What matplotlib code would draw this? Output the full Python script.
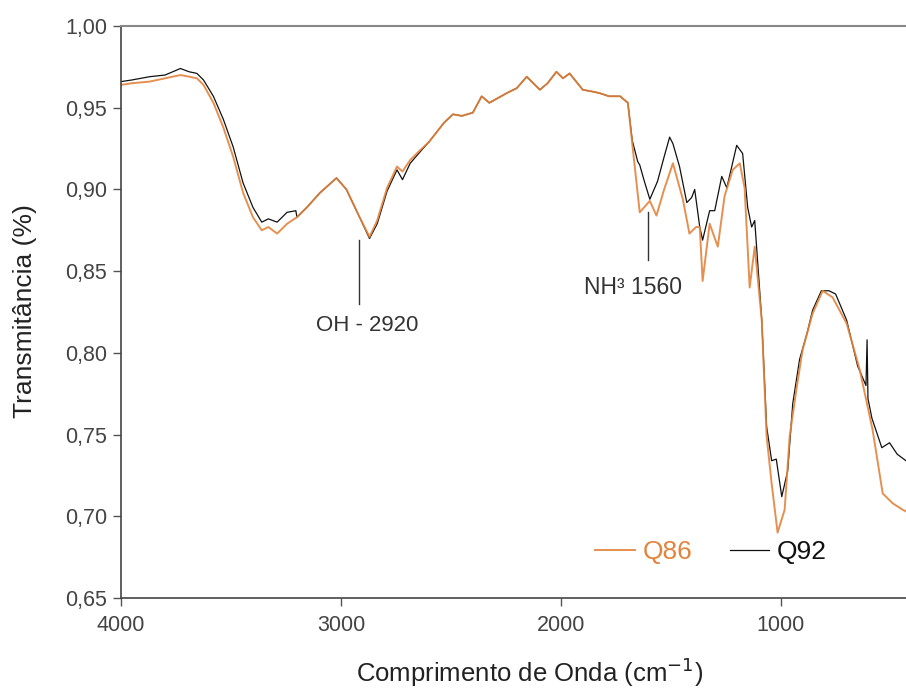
import matplotlib
matplotlib.use("Agg")
import matplotlib.pyplot as plt

plt.rcParams['font.family'] = ['Liberation Sans', 'DejaVu Sans']

# Q86 (laranja)
wn_q86 = [4000, 3950, 3870, 3800, 3730, 3690, 3655, 3625, 3580, 3535, 3490, 3445,
          3400, 3360, 3330, 3290, 3245, 3200, 3155, 3095, 3020, 2975, 2915, 2870,
          2835, 2790, 2745, 2720, 2685, 2640, 2600, 2565, 2530, 2490, 2450, 2400,
          2360, 2325, 2285, 2245, 2200, 2155, 2095, 2060, 2020, 1990, 1960, 1900,
          1860, 1825, 1780, 1730, 1695, 1675, 1641, 1615, 1595, 1565, 1530, 1490,
          1445, 1415, 1385, 1368, 1355, 1323, 1286, 1255, 1218, 1186, 1164, 1141,
          1118, 1086, 1064, 1041, 1014, 982, 959, 927, 900, 855, 809, 764, 700,
          641, 582, 536, 491, 445, 430]
t_q86 = [0.964, 0.965, 0.966, 0.968, 0.970, 0.969, 0.968, 0.964, 0.953, 0.938, 0.920, 0.898,
         0.883, 0.875, 0.877, 0.873, 0.879, 0.883, 0.889, 0.898, 0.907, 0.900, 0.883, 0.871,
         0.881, 0.901, 0.914, 0.911, 0.918, 0.924, 0.929, 0.935, 0.941, 0.946, 0.945, 0.947,
         0.957, 0.953, 0.956, 0.959, 0.962, 0.969, 0.961, 0.965, 0.972, 0.968, 0.971, 0.961,
         0.960, 0.959, 0.957, 0.957, 0.953, 0.928, 0.886, 0.890, 0.893, 0.884, 0.900, 0.916,
         0.894, 0.873, 0.877, 0.877, 0.844, 0.879, 0.865, 0.896, 0.912, 0.916, 0.901, 0.840,
         0.865, 0.820, 0.749, 0.720, 0.690, 0.704, 0.749, 0.779, 0.802, 0.824, 0.838, 0.834, 0.818,
         0.790, 0.753, 0.714, 0.708, 0.704, 0.703]

# Q92 (preto)
wn_q92 = [4000, 3950, 3870, 3800, 3730, 3690, 3655, 3625, 3580, 3535, 3490, 3445,
          3400, 3360, 3330, 3290, 3245, 3205, 3200, 3155, 3095, 3020, 2975, 2915, 2870,
          2835, 2790, 2745, 2720, 2685, 2640, 2600, 2565, 2530, 2490, 2450, 2400,
          2360, 2325, 2285, 2245, 2200, 2155, 2095, 2060, 2020, 1990, 1960, 1900,
          1860, 1825, 1780, 1730, 1695, 1675, 1650, 1641, 1620, 1595, 1560, 1530, 1505,
          1490, 1460, 1427, 1405, 1391, 1368, 1355, 1323, 1300, 1268, 1245, 1200, 1173,
          1150, 1132, 1118, 1086, 1064, 1041, 1020, 995, 968, 945, 914, 880, 855, 815,
          780, 750, 700, 650, 612, 607, 603, 585, 540, 505, 470, 430]
t_q92 = [0.966, 0.967, 0.969, 0.970, 0.974, 0.972, 0.971, 0.967, 0.957, 0.943, 0.926, 0.904,
         0.889, 0.880, 0.882, 0.880, 0.886, 0.887, 0.883, 0.889, 0.898, 0.907, 0.900, 0.883, 0.870,
         0.879, 0.899, 0.912, 0.906, 0.916, 0.923, 0.929, 0.935, 0.941, 0.946, 0.945, 0.947,
         0.957, 0.953, 0.956, 0.959, 0.962, 0.969, 0.961, 0.965, 0.972, 0.968, 0.971, 0.961,
         0.960, 0.959, 0.957, 0.957, 0.953, 0.930, 0.917, 0.915, 0.905, 0.894, 0.905, 0.920, 0.932,
         0.928, 0.914, 0.892, 0.895, 0.900, 0.877, 0.869, 0.887, 0.887, 0.908, 0.901, 0.927, 0.922,
         0.889, 0.877, 0.881, 0.820, 0.755, 0.734, 0.735, 0.712, 0.728, 0.769, 0.796, 0.812, 0.826, 0.838,
         0.838, 0.836, 0.820, 0.792, 0.780, 0.808, 0.772, 0.760, 0.742, 0.745, 0.738, 0.734]

y_ticks = [0.65, 0.70, 0.75, 0.80, 0.85, 0.90, 0.95, 1.00]
y_ticklabels = ['0,65', '0,70', '0,75', '0,80', '0,85', '0,90', '0,95', '1,00']
x_ticks = [4000, 3000, 2000, 1000]

orange = '#E3843D'

fig = plt.figure(figsize=(9.06, 6.94), dpi=100)
ax = fig.add_axes([0.1336, 0.1383, 0.8664, 0.8242])

ax.plot(wn_q92, t_q92, color='#111111', lw=0.9, label='Q92')
ax.plot(wn_q86, t_q86, color=orange, lw=1.4, alpha=0.9, label='Q86')

ax.set_xlim(4000, 430)
ax.set_ylim(0.65, 1.00)
ax.set_xticks(x_ticks)
ax.set_yticks(y_ticks)
ax.set_yticklabels(y_ticklabels)
ax.tick_params(axis='both', direction='out', length=6, width=1, color='#555555',
               labelsize=15.5, labelcolor='#444444')
ax.tick_params(axis='y', pad=4)
ax.tick_params(axis='x', pad=6)

for s in ['left', 'bottom']:
    ax.spines[s].set_color('#444444')
    ax.spines[s].set_linewidth(1.2)
ax.spines['top'].set_color('#888888')
ax.spines['top'].set_linewidth(1.5)
ax.spines['right'].set_visible(False)

ax.set_ylabel('Transmitância (%)', fontsize=19, color='#222222')
ax.set_xlabel('Comprimento de Onda (cm$^{-1}$)', fontsize=18.5, color='#222222')
ax.yaxis.set_label_coords(-0.107, 0.502)
ax.xaxis.set_label_coords(0.521, -0.100)

# marcações das bandas
ax.plot([2918, 2918], [0.869, 0.830], color='#333333', lw=1)
ax.text(2880, 0.817, 'OH - 2920', fontsize=16, color='#333333', ha='center', va='center')
ax.plot([1605, 1605], [0.886, 0.857], color='#333333', lw=1)
ax.text(1673, 0.840, 'NH³ 1560', fontsize=16.5, color='#333333', ha='center', va='center')

h, l = ax.get_legend_handles_labels()
ax.legend([h[1], h[0]], [l[1], l[0]], ncol=2, loc='center', bbox_to_anchor=(0.752, 0.08),
          frameon=False, fontsize=19, handlelength=1.5, handletextpad=0.3,
          columnspacing=1.4, labelcolor=[orange, '#111111'])

fig.savefig('out.png', dpi=100)
